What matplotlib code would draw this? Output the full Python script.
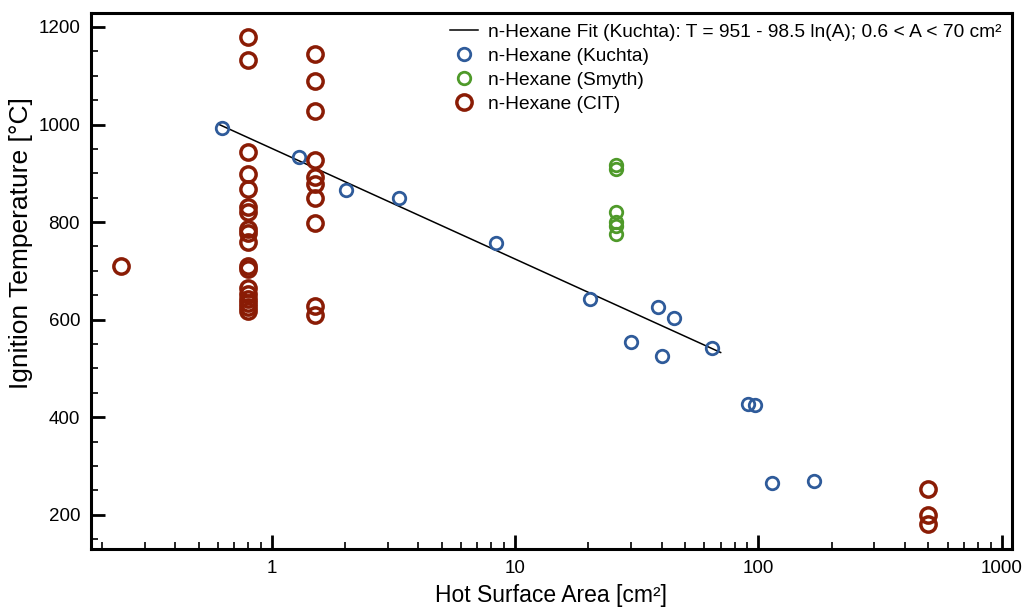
import numpy as np
import matplotlib
matplotlib.use('Agg')
import matplotlib.pyplot as plt
from matplotlib.ticker import FixedLocator, MultipleLocator, FuncFormatter, LogLocator, NullFormatter

plt.rcParams['font.family'] = ['Liberation Sans', 'DejaVu Sans']

# Kuchta data (area cm2, ignition temperature C)
kuchta_area = [0.625, 1.29, 2.02, 3.33, 8.33, 20.3, 30.1, 38.6, 40.0, 44.9, 64.8, 90.4, 96.7, 114, 169]
kuchta_temp = [992, 933, 865, 849, 757, 642, 554, 626, 525, 603, 541, 427, 425, 264, 269]

# Smyth data
smyth_area = [25.9, 25.9, 25.9, 25.9, 25.9, 25.9]
smyth_temp = [916, 908, 820, 800, 792, 775]

# CIT data
cit_area = [0.24,
            0.8, 0.8, 0.8, 0.8, 0.8, 0.8, 0.8, 0.8, 0.8, 0.8, 0.8, 0.8,
            0.8, 0.8, 0.8, 0.8, 0.8, 0.8,
            1.5, 1.5, 1.5, 1.5, 1.5, 1.5, 1.5, 1.5, 1.5, 1.5,
            500, 500, 500]
cit_temp = [710,
            1179, 1133, 943, 898, 867, 830, 820, 785, 777, 760, 710, 704,
            665, 652, 642, 635, 625, 618,
            1144, 1089, 1027, 928, 892, 877, 850, 798, 628, 609,
            252, 200, 180]

# fit: T = 951 - 98.5 ln(A), 0.6 < A < 70
fit_a, fit_b = 951, 98.5
fit_range = (0.6, 70)

blue = '#2f5b9a'
green = '#4f9a2a'
red = '#8a1c05'

fig = plt.figure(figsize=(10.24, 6.11), dpi=100)
ax = fig.add_axes([0.089, 0.101, 0.899, 0.878])

A = np.logspace(np.log10(fit_range[0]), np.log10(fit_range[1]), 100)
ax.plot(A, fit_a - fit_b * np.log(A), color='black', lw=1.1,
        label='n-Hexane Fit (Kuchta): T = 951 - 98.5 ln(A); 0.6 < A < 70 cm²')
ax.plot(kuchta_area, kuchta_temp, 'o', mfc='none', mec=blue, ms=9, mew=2, label='n-Hexane (Kuchta)')
ax.plot(smyth_area, smyth_temp, 'o', mfc='none', mec=green, ms=9, mew=2, label='n-Hexane (Smyth)')
ax.plot(cit_area, cit_temp, 'o', mfc='none', mec=red, ms=11, mew=2.5, label='n-Hexane (CIT)')

ax.set_xscale('log')
ax.set_xlim(0.181, 1100)
ax.set_ylim(129, 1229)

ax.xaxis.set_major_locator(FixedLocator([1, 10, 100, 1000]))
ax.xaxis.set_major_formatter(FuncFormatter(lambda v, p: '%g' % v))
ax.xaxis.set_minor_locator(LogLocator(base=10, subs=np.arange(2, 10)))
ax.xaxis.set_minor_formatter(NullFormatter())
ax.yaxis.set_major_locator(MultipleLocator(200))
ax.yaxis.set_minor_locator(MultipleLocator(50))

for s in ax.spines.values():
    s.set_linewidth(2.2)
ax.tick_params(which='major', direction='in', length=10, width=2, labelsize=13.5, pad=8)
ax.tick_params(which='minor', direction='in', length=5, width=1.2)

ax.set_xlabel('Hot Surface Area [cm²]', fontsize=16.5, labelpad=5)
ax.set_ylabel('Ignition Temperature [°C]', fontsize=19)
ax.yaxis.set_label_coords(-0.063, 0.571)

ax.legend(loc='upper right', frameon=False, fontsize=13.8, handlelength=1.46,
          handletextpad=0.52, labelspacing=0.35, borderaxespad=0.15)

fig.savefig('out.png', dpi=100)
